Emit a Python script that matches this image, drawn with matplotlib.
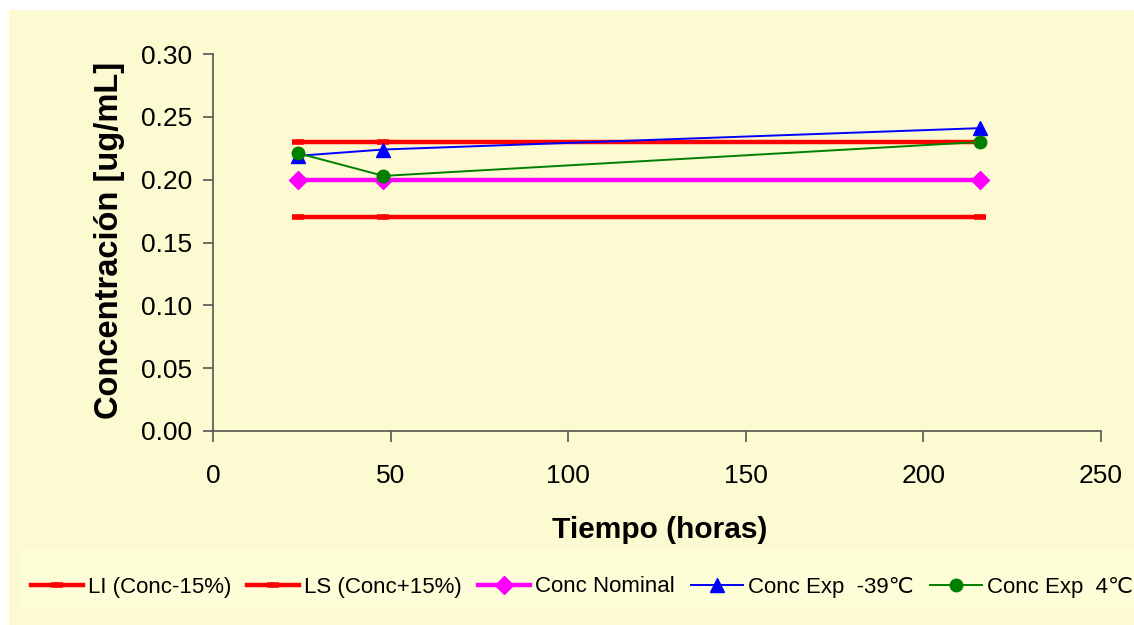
import matplotlib
matplotlib.use("Agg")
import matplotlib.pyplot as plt
from matplotlib.patches import Rectangle

plt.rcParams['font.family'] = ['Liberation Sans', 'DejaVu Sans']

tiempo = [24, 48, 216]
li = [0.17, 0.17, 0.17]
ls = [0.23, 0.23, 0.23]
nominal = [0.20, 0.20, 0.20]
exp_m39 = [0.219, 0.224, 0.241]
exp_4 = [0.221, 0.203, 0.230]

labels = ["LI (Conc-15%)", "LS (Conc+15%)", "Conc Nominal",
          "Conc Exp  -39\u2103", "Conc Exp  4\u2103"]
xticks = [0, 50, 100, 150, 200, 250]
yticks = [0.00, 0.05, 0.10, 0.15, 0.20, 0.25, 0.30]

W, H = 1134, 625
fig = plt.figure(figsize=(W / 100, H / 100), dpi=100)
fig.patch.set_facecolor('white')
bg = '#fbfad0'
fig.patches.append(Rectangle((9 / W, 0), 1, 1 - 10 / H, transform=fig.transFigure,
                             facecolor=bg, edgecolor='none', zorder=-10))
# lighter legend area
fig.patches.append(Rectangle((20 / W, 1 - 607 / H), 1, (607 - 550) / H,
                             transform=fig.transFigure,
                             facecolor='#fdfdd8', edgecolor='none', zorder=-9))

ax = fig.add_axes([213 / W, 1 - 431 / H, (1101 - 213) / W, (431 - 54) / H])
ax.set_facecolor(bg)

ax.plot(tiempo, li, color='#ff0000', lw=3.2, marker='_', ms=9, mew=4, label=labels[0])
ax.plot(tiempo, ls, color='#ff0000', lw=3.2, marker='_', ms=9, mew=4, label=labels[1])
ax.plot(tiempo, nominal, color='#ff00ff', lw=3.2, marker='D', ms=9, label=labels[2])
ax.plot(tiempo, exp_m39, color='#0000ff', lw=1.4, marker='^', ms=10, label=labels[3])
ax.plot(tiempo, exp_4, color='#008000', lw=1.4, marker='o', ms=9, label=labels[4])

ax.set_xlim(0, 250)
ax.set_ylim(0, 0.30)
ax.set_xticks(xticks)
ax.set_yticks(yticks)
ax.set_xticklabels([str(v) for v in xticks])
ax.set_yticklabels([f"{v:.2f}" for v in yticks])
for s in ['top', 'right']:
    ax.spines[s].set_visible(False)
for s in ['left', 'bottom']:
    ax.spines[s].set_color('#555555')
    ax.spines[s].set_linewidth(1.2)
ax.tick_params(axis='y', direction='out', length=7, width=1.2, color='#555555',
               labelsize=19, pad=8)
ax.tick_params(axis='x', direction='out', length=8, width=1.2, color='#555555',
               labelsize=19, pad=16)

fig.text(660 / W, 1 - 530 / H, "Tiempo (horas)", fontsize=21.5, fontweight='bold',
         ha='center', va='center')
fig.text(110 / W, 1 - 240 / H, "Concentraci\u00f3n [ug/mL]", fontsize=23.5, fontweight='bold',
         ha='center', va='center', rotation=90)

leg = fig.legend(loc='center left', bbox_to_anchor=(22 / W, 1 - 587 / H), ncol=5,
                 frameon=False, fontsize=16, handlelength=2.34, handletextpad=0.23,
                 columnspacing=0.72, borderpad=0.4, borderaxespad=0)

fig.savefig('out.png', dpi=100, facecolor=fig.get_facecolor())
